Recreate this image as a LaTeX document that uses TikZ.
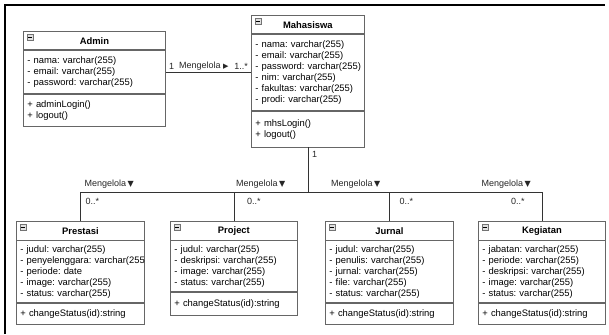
\documentclass[tikz,border=0pt]{standalone}
\usepackage{fontspec}
\setmainfont{Liberation Sans}
\newfontfamily\symfont{DejaVu Sans}
\usetikzlibrary{positioning}
\frenchspacing

\begin{document}
\begin{tikzpicture}[x=1pt,y=1pt,
    clsname/.style={draw=black!60,line width=0.8pt,minimum height=18.5pt,inner sep=0pt,
        font=\fontsize{9.4}{11}\selectfont\bfseries},
    clspart/.style={draw=black!60,line width=0.8pt,align=left,inner xsep=4pt,inner ysep=6pt,
        font=\fontsize{9.4}{11}\selectfont},
    lowpart/.style={clspart,inner ysep=4.5pt},
    lbl/.style={inner sep=0pt,font=\fontsize{9}{11}\selectfont,text=black!85},
    conn/.style={draw=black!80,line width=0.8pt}]
                \useasboundingbox (0,0) rectangle (609,-334);
                \draw[line width=2.6pt] (5,-334) -- (5,-5) -- (605,-5);
                % top row
                \node[clsname,minimum width=142pt,anchor=north west] (admin) at (23,-31) {Admin};
                \node[clspart,text width=134pt,below=0pt of admin] (adminA) {- nama: varchar(255)\\- email: varchar(255)\\- password: varchar(255)};
                \node[clspart,text width=134pt,below=0pt of adminA] (adminM) {+ adminLogin()\\+ logout()};
                \node[clsname,minimum width=113pt,anchor=north west] (mhs) at (251,-15) {Mahasiswa};
                \node[clspart,text width=105pt,below=0pt of mhs] (mhsA) {- nama: varchar(255)\\- email: varchar(255)\\\mbox{- password: varchar(255)}\\- nim: varchar(255)\\- fakultas: varchar(255)\\- prodi: varchar(255)};
                \node[clspart,text width=105pt,inner ysep=8pt,below=0pt of mhsA] (mhsM) {+ mhsLogin()\\+ logout()};
                % bottom row
                \node[clsname,minimum width=128pt,anchor=north west] (prestasi) at (16,-221) {Prestasi};
                \node[lowpart,text width=120pt,below=0pt of prestasi] (prestasiA) {- judul: varchar(255)\\\mbox{- penyelenggara: varchar(255}\\- periode: date\\- image: varchar(255)\\- status: varchar(255)};
                \node[clspart,text width=120pt,below=0pt of prestasiA] (prestasiM) {+ changeStatus(id):string};
                \node[clsname,minimum width=127pt,anchor=north west] (project) at (170,-221) {Project};
                \node[lowpart,text width=119pt,below=0pt of project] (projectA) {- judul: varchar(255)\\- deskripsi: varchar(255)\\- image: varchar(255)\\- status: varchar(255)};
                \node[clspart,text width=119pt,inner ysep=7pt,below=0pt of projectA] (projectM) {+ changeStatus(id):string};
                \node[clsname,minimum width=128pt,anchor=north west] (jurnal) at (325,-221) {Jurnal};
                \node[lowpart,text width=120pt,below=0pt of jurnal] (jurnalA) {- judul: varchar(255)\\- penulis: varchar(255)\\- jurnal: varchar(255)\\- file: varchar(255)\\- status: varchar(255)};
                \node[clspart,text width=120pt,below=0pt of jurnalA] (jurnalM) {+ changeStatus(id):string};
                \node[clsname,minimum width=127pt,anchor=north west] (kegiatan) at (478,-221) {Kegiatan};
                \node[lowpart,text width=119pt,below=0pt of kegiatan] (kegiatanA) {- jabatan: varchar(255)\\- periode: varchar(255)\\- deskripsi: varchar(255)\\- image: varchar(255)\\- status: varchar(255)};
                \node[clspart,text width=119pt,below=0pt of kegiatanA] (kegiatanM) {+ changeStatus(id):string};
                % collapse icons
                \foreach \c in {admin,mhs,prestasi,project,jurnal,kegiatan}{
                    \draw[draw=black!55,fill=black!12,line width=0.4pt] ([shift={(4,-3)}]\c.north west) rectangle ++(6,-6);
                    \draw[line width=0.6pt] ([shift={(5.2,-6)}]\c.north west) -- ++(3.6,0);
                }
                % admin - mahasiswa
                \coordinate (am) at (adminA.east -| mhsA.west);
                \draw[conn] (adminA.east) -- (am);
                \node[lbl,anchor=south west] (am1) at ([shift={(3,2)}]adminA.east) {1};
                \node[lbl,anchor=south west] (amlbl) at ([shift={(13,2)}]adminA.east) {Mengelola {\symfont\fontsize{7}{9}\selectfont ▶}};
                \node[lbl,anchor=south east] (am2) at ([shift={(-3,2)}]am) {1..*};
                % mahasiswa - detail classes
                \path (mhsM.south |- prestasi.north) ++(0,29) coordinate (bus);
                \coordinate (jp) at (prestasi.north |- bus);
                \coordinate (jr) at (project.north |- bus);
                \coordinate (jj) at (jurnal.north |- bus);
                \coordinate (jk) at (kegiatan.north |- bus);
                \draw[conn] (mhsM.south) -- (bus);
                \draw[conn] (prestasi.north) -- (jp) -- (jk) -- (kegiatan.north);
                \draw[conn] (project.north) -- (jr);
                \draw[conn] (jurnal.north) -- (jj);
                \node[lbl,anchor=north west] (mb1) at ([shift={(4,-4)}]mhsM.south) {1};
                \node[lbl,anchor=south west] (lp) at ([shift={(4,3)}]jp) {Mengelola\,{\symfont\fontsize{8}{9}\selectfont ▼}};
                \node[lbl,anchor=south west] (lr) at ([shift={(2,3)}]jr) {Mengelola\,{\symfont\fontsize{8}{9}\selectfont ▼}};
                \node[lbl,anchor=south east] (lj) at ([shift={(-9,3)}]jj) {Mengelola\,{\symfont\fontsize{8}{9}\selectfont ▼}};
                \node[lbl,anchor=south east] (lk) at ([shift={(-11,3)}]jk) {Mengelola\,{\symfont\fontsize{8}{9}\selectfont ▼}};
                \node[lbl,anchor=north west] (mp) at ([shift={(5,-6)}]jp) {0..*};
                \node[lbl,anchor=north west] (mr) at ([shift={(13,-6)}]jr) {0..*};
                \node[lbl,anchor=north west] (mj) at ([shift={(10,-6)}]jj) {0..*};
                \node[lbl,anchor=north east] (mk) at ([shift={(-17,-6)}]jk) {0..*};
            \end{tikzpicture}
\end{document}
